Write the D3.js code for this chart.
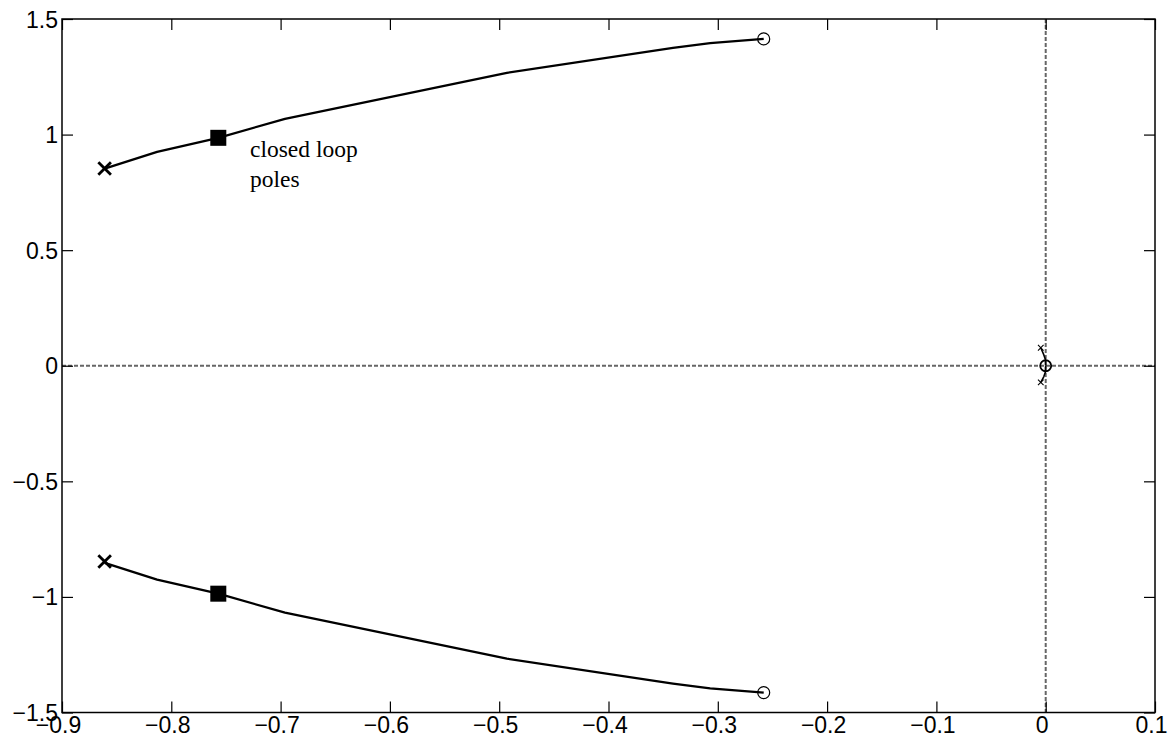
<!DOCTYPE html>
<html>
<head>
<meta charset="utf-8">
<script src="https://cdn.jsdelivr.net/npm/d3@7"></script>
<style>
  html, body { margin: 0; padding: 0; background: #fff; }
  svg { display: block; }
</style>
</head>
<body>
<svg id="chart" width="1175" height="742"></svg>
<script>
// Root locus: branch points (real, imaginary parts)
const upperBranchRe = [-0.861, -0.813, -0.757, -0.696, -0.493, -0.341, -0.307, -0.258];
const upperBranchIm = [0.853, 0.925, 0.986, 1.068, 1.267, 1.375, 1.396, 1.414];
const lowerBranchRe = [-0.861, -0.813, -0.757, -0.696, -0.493, -0.341, -0.307, -0.258];
const lowerBranchIm = [-0.853, -0.925, -0.986, -1.068, -1.267, -1.375, -1.396, -1.414];
const originUpperRe = [-0.0045, -0.0017, -0.0002, 0];
const originUpperIm = [0.078, 0.047, 0.026, 0];
const originLowerRe = [-0.0045, -0.0017, -0.0002, 0];
const originLowerIm = [-0.072, -0.047, -0.026, 0];

// Open-loop poles and zeros
const bigPolesRe = [-0.861, -0.861];
const bigPolesIm = [0.853, -0.847];
const smallPolesRe = [-0.0045, -0.0045];
const smallPolesIm = [0.078, -0.072];
const zerosRe = [-0.258, -0.258, 0];
const zerosIm = [1.414, -1.414, 0];
const zeroSize = ["big", "big", "small"];

// Closed-loop poles
const closedRe = [-0.757, -0.757];
const closedIm = [0.986, -0.986];

const xTicks = [-0.9, -0.8, -0.7, -0.6, -0.5, -0.4, -0.3, -0.2, -0.1, 0, 0.1];
const yTicks = [-1.5, -1, -0.5, 0, 0.5, 1, 1.5];
const annotation = ["closed loop", "poles"];

const svg = d3.select("#chart");
const plotL = 62, plotR = 1155, plotT = 19, plotB = 712.5;

const x = d3.scaleLinear().domain([-0.9, 0.1]).range([plotL, plotR]);
const y = d3.scaleLinear().domain([-1.5, 1.5]).range([plotB, plotT]);

const fmt = d => d3.format("")(d).replace("-", "\u2212");
const tickLen = 11;

// Zero reference lines
const ref = svg.append("g")
  .attr("stroke", "#666").attr("stroke-width", 2)
  .attr("stroke-dasharray", "4,2");
ref.append("line").attr("x1", x(-0.9)).attr("x2", x(0.1)).attr("y1", y(0)).attr("y2", y(0));
ref.append("line").attr("x1", x(0)).attr("x2", x(0)).attr("y1", y(1.5)).attr("y2", y(-1.5));

// Axes with inward ticks on all four sides
const axisFont = "'Liberation Sans', Arial, sans-serif";
const gx = svg.append("g").attr("transform", `translate(0,${plotB})`)
  .call(d3.axisBottom(x).tickValues(xTicks).tickFormat(fmt).tickSizeInner(-tickLen).tickSizeOuter(0).tickPadding(16));
const gxTop = svg.append("g").attr("transform", `translate(0,${plotT})`)
  .call(d3.axisTop(x).tickValues(xTicks).tickFormat("").tickSizeInner(-tickLen).tickSizeOuter(0));
const gy = svg.append("g").attr("transform", `translate(${plotL},0)`)
  .call(d3.axisLeft(y).tickValues(yTicks).tickFormat(fmt).tickSizeInner(-tickLen).tickSizeOuter(0).tickPadding(16));
const gyRight = svg.append("g").attr("transform", `translate(${plotR},0)`)
  .call(d3.axisRight(y).tickValues(yTicks).tickFormat("").tickSizeInner(-tickLen).tickSizeOuter(0));

[gx, gxTop, gy, gyRight].forEach(g => {
  g.attr("font-size", null);
  g.select(".domain").remove();
  g.selectAll("line").attr("stroke", "#000").attr("stroke-width", 1.2);
  g.selectAll("text").attr("fill", "#000")
    .attr("font-family", axisFont).attr("font-size", 23);
});
gx.selectAll("text").attr("y", 4).attr("dx", -4).attr("dy", "0.71em");
gy.selectAll("text").attr("x", -4).attr("dy", "0.35em");

// Plot frame
svg.append("rect")
  .attr("x", plotL).attr("y", plotT).attr("width", plotR - plotL).attr("height", plotB - plotT)
  .attr("fill", "none").attr("stroke", "#000").attr("stroke-width", 1.5);

// Locus branches
const line = d3.line().x(d => x(d[0])).y(d => y(d[1]));
const branches = [
  [upperBranchRe, upperBranchIm, 2.3],
  [lowerBranchRe, lowerBranchIm, 2.3],
  [originUpperRe, originUpperIm, 1.6],
  [originLowerRe, originLowerIm, 1.6]
];
branches.forEach(([re, im, w]) => {
  svg.append("path")
    .datum(re.map((r, i) => [r, im[i]]))
    .attr("d", line)
    .attr("fill", "none").attr("stroke", "#000").attr("stroke-width", w)
    .attr("stroke-linejoin", "round");
});

// Pole markers (x)
function crosses(re, im, half, w) {
  re.forEach((r, i) => {
    const cx = x(r), cy = y(im[i]);
    svg.append("path")
      .attr("d", `M${cx - half},${cy - half}L${cx + half},${cy + half}M${cx - half},${cy + half}L${cx + half},${cy - half}`)
      .attr("stroke", "#000").attr("stroke-width", w).attr("fill", "none");
  });
}
crosses(bigPolesRe, bigPolesIm, 6.3, 2.8);
crosses(smallPolesRe, smallPolesIm, 2.8, 1.1);

// Zero markers (o)
svg.selectAll("circle.zero")
  .data(zerosRe.map((r, i) => ({ r, i: zerosIm[i], s: zeroSize[i] })))
  .join("circle")
  .attr("class", "zero")
  .attr("cx", d => x(d.r)).attr("cy", d => y(d.i))
  .attr("r", d => d.s === "big" ? 6 : 5.5)
  .attr("fill", "none").attr("stroke", "#000")
  .attr("stroke-width", d => d.s === "big" ? 1.2 : 1.8);

// Closed-loop pole markers (filled squares)
const sq = 16;
svg.selectAll("rect.closed")
  .data(closedRe.map((r, i) => [r, closedIm[i]]))
  .join("rect")
  .attr("class", "closed")
  .attr("x", d => x(d[0]) - sq / 2).attr("y", d => y(d[1]) - sq / 2)
  .attr("width", sq).attr("height", sq)
  .attr("fill", "#000");

// Annotation
const note = svg.append("text")
  .attr("x", 250).attr("y", 157)
  .attr("font-family", "'Liberation Serif', 'Times New Roman', serif")
  .attr("font-size", 23.5).attr("fill", "#000");
annotation.forEach((t, i) => {
  note.append("tspan").attr("x", 250).attr("dy", i === 0 ? 0 : 30).text(t);
});
</script>
</body>
</html>
